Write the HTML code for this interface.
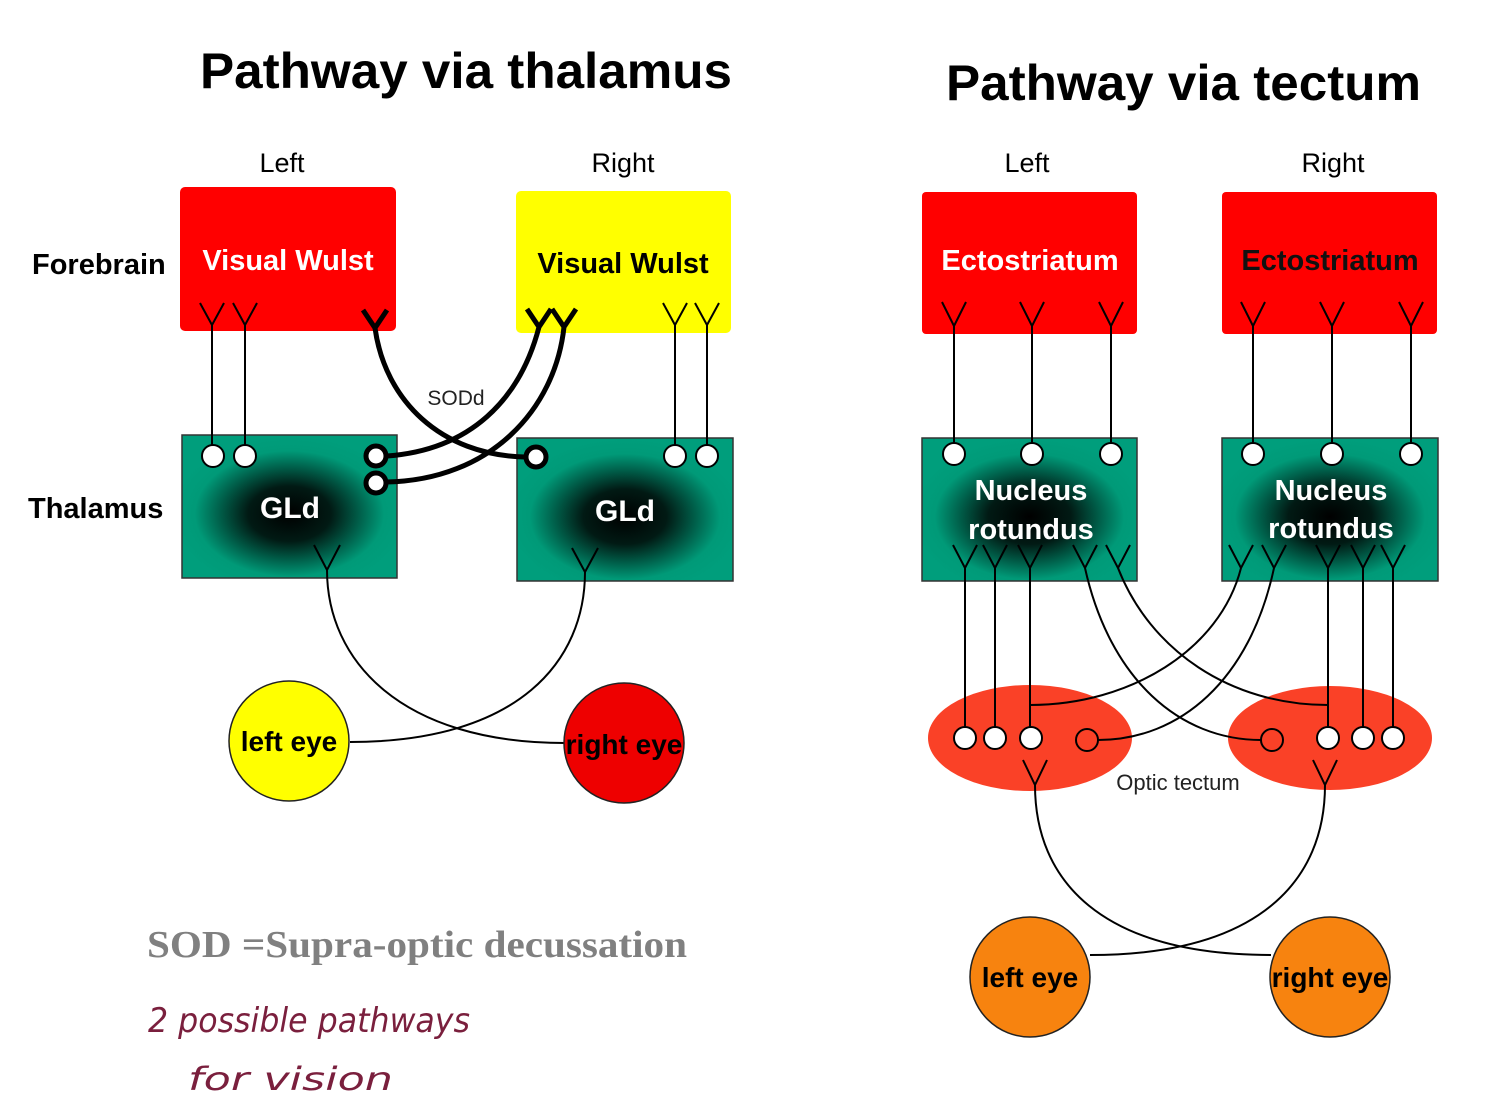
<!DOCTYPE html>
<html><head><meta charset="utf-8"><style>
html,body{margin:0;padding:0;background:#fff;}
svg{display:block;}
text{font-family:"Liberation Sans",Arial,sans-serif;}
</style></head><body>
<svg width="1493" height="1108" viewBox="0 0 1493 1108" xmlns="http://www.w3.org/2000/svg">
<defs>
<radialGradient id="g" cx="0.5" cy="0.55" r="0.55">
<stop offset="0" stop-color="#000"/>
<stop offset="0.35" stop-color="#011a14"/>
<stop offset="0.8" stop-color="#009a78"/>
<stop offset="1" stop-color="#009e7c"/>
</radialGradient>
</defs>

<!-- Titles -->
<text x="200" y="88" font-size="50" font-weight="bold" textLength="532" lengthAdjust="spacingAndGlyphs">Pathway via thalamus</text>
<text x="946" y="100" font-size="50" font-weight="bold" textLength="475" lengthAdjust="spacingAndGlyphs">Pathway via tectum</text>

<!-- LEFT DIAGRAM -->
<text x="282" y="172" font-size="27" text-anchor="middle">Left</text>
<text x="623" y="172" font-size="27" text-anchor="middle">Right</text>
<text x="32" y="274" font-size="29" font-weight="bold">Forebrain</text>
<text x="28" y="518" font-size="29" font-weight="bold">Thalamus</text>

<rect x="180" y="187" width="216" height="144" rx="5" fill="#ff0000"/>
<rect x="516" y="191" width="215" height="142" rx="5" fill="#ffff00"/>
<text x="288" y="270" font-size="29" font-weight="bold" fill="#fff" text-anchor="middle">Visual Wulst</text>
<text x="623" y="273" font-size="29" font-weight="bold" fill="#000" text-anchor="middle">Visual Wulst</text>

<rect x="182" y="435" width="215" height="143" fill="url(#g)" stroke="#333" stroke-width="1.5"/>
<rect x="517" y="438" width="216" height="143" fill="url(#g)" stroke="#333" stroke-width="1.5"/>
<text x="290" y="518" font-size="30" font-weight="bold" fill="#fff" text-anchor="middle">GLd</text>
<text x="625" y="521" font-size="30" font-weight="bold" fill="#fff" text-anchor="middle">GLd</text>

<g fill="none" stroke="#000" stroke-width="2">
<!-- thin forks and lines -->
<path d="M200 303 L212 325 L224 303 M212 325 L212 445"/>
<path d="M233 303 L245 325 L257 303 M245 325 L245 445"/>
<path d="M663 303 L675 325 L687 303 M675 325 L675 445"/>
<path d="M695 303 L707 325 L719 303 M707 325 L707 445"/>
<!-- GLd forks -->
<path d="M314 545 L327 570 L340 545 M327 570 C327 660 400 743 565 743"/>
<path d="M572 548 L585 572 L598 548 M585 572 C585 660 520 742 350 742"/>
</g>
<g fill="none" stroke="#000" stroke-width="5">
<path d="M363 310 L375 328 L387 310 M375 328 C385 400 440 455 525 457"/>
<path d="M527 309 L539 327 L551 309 M539 327 C520 400 470 450 387 456"/>
<path d="M552 309 L564 327 L576 309 M564 327 C555 410 490 480 387 482"/>
</g>
<g fill="#fff" stroke="#000" stroke-width="2">
<circle cx="213" cy="456" r="11"/>
<circle cx="245" cy="456" r="11"/>
<circle cx="675" cy="456" r="11"/>
<circle cx="707" cy="456" r="11"/>
</g>
<g fill="#fff" stroke="#000" stroke-width="5">
<circle cx="376" cy="456" r="10"/>
<circle cx="376" cy="483" r="10"/>
<circle cx="536" cy="457" r="10"/>
</g>
<text x="456" y="405" font-size="21" fill="#222" text-anchor="middle">SODd</text>

<circle cx="289" cy="741" r="60" fill="#ffff00" stroke="#222" stroke-width="1.5"/>
<circle cx="624" cy="743" r="60" fill="#ee0000" stroke="#222" stroke-width="1.5"/>
<text x="289" y="751" font-size="28" font-weight="bold" text-anchor="middle">left eye</text>
<text x="624" y="754" font-size="28" font-weight="bold" text-anchor="middle">right eye</text>

<!-- RIGHT DIAGRAM -->
<text x="1027" y="172" font-size="27" text-anchor="middle">Left</text>
<text x="1333" y="172" font-size="27" text-anchor="middle">Right</text>
<rect x="922" y="192" width="215" height="142" rx="4" fill="#ff0000"/>
<rect x="1222" y="192" width="215" height="142" rx="4" fill="#ff0000"/>
<text x="1030" y="270" font-size="29" font-weight="bold" fill="#fff" text-anchor="middle">Ectostriatum</text>
<text x="1330" y="270" font-size="29" font-weight="bold" fill="#111" text-anchor="middle">Ectostriatum</text>

<rect x="922" y="438" width="215" height="143" fill="url(#g)" stroke="#333" stroke-width="1.5"/>
<rect x="1222" y="438" width="216" height="143" fill="url(#g)" stroke="#333" stroke-width="1.5"/>
<text x="1031" y="500" font-size="29" font-weight="bold" fill="#fff" text-anchor="middle">Nucleus</text>
<text x="1031" y="539" font-size="29" font-weight="bold" fill="#fff" text-anchor="middle">rotundus</text>
<text x="1331" y="500" font-size="29" font-weight="bold" fill="#fff" text-anchor="middle">Nucleus</text>
<text x="1331" y="538" font-size="29" font-weight="bold" fill="#fff" text-anchor="middle">rotundus</text>

<ellipse cx="1030" cy="738" rx="102" ry="53" fill="#fa4127"/>
<ellipse cx="1330" cy="738" rx="102" ry="52" fill="#fa4127"/>
<text x="1178" y="790" font-size="22" fill="#222" text-anchor="middle">Optic tectum</text>

<g fill="none" stroke="#000" stroke-width="2">
<path d="M942 302 L954 326 L966 302 M954 326 L954 443"/>
<path d="M1020 302 L1032 326 L1044 302 M1032 326 L1032 443"/>
<path d="M1099 302 L1111 326 L1123 302 M1111 326 L1111 443"/>
<path d="M1241 302 L1253 326 L1265 302 M1253 326 L1253 443"/>
<path d="M1320 302 L1332 326 L1344 302 M1332 326 L1332 443"/>
<path d="M1399 302 L1411 326 L1423 302 M1411 326 L1411 443"/>
<!-- NR forks left -->
<path d="M953 545 L965 568 L977 545 M965 568 L965 727"/>
<path d="M983 545 L995 568 L1007 545 M995 568 L995 727"/>
<path d="M1018 545 L1030 568 L1042 545 M1030 568 L1030 727"/>
<path d="M1073 545 L1085 568 L1097 545 M1085 568 C1110 680 1180 740 1261 740"/>
<path d="M1106 545 L1118 568 L1130 545 M1118 568 C1150 650 1230 705 1328 705"/>
<!-- NR forks right -->
<path d="M1229 545 L1241 568 L1253 545 M1241 568 C1220 650 1130 705 1030 705"/>
<path d="M1262 545 L1274 568 L1286 545 M1274 568 C1250 680 1180 740 1098 740"/>
<path d="M1316 545 L1328 568 L1340 545 M1328 568 L1328 727"/>
<path d="M1351 545 L1363 568 L1375 545 M1363 568 L1363 727"/>
<path d="M1381 545 L1393 568 L1405 545 M1393 568 L1393 727"/>
<!-- tectum forks -->
<path d="M1023 760 L1035 785 L1047 760 M1035 785 C1035 880 1100 955 1271 955"/>
<path d="M1313 760 L1325 785 L1337 760 M1325 785 C1325 880 1260 955 1090 955"/>
</g>
<g fill="#fff" stroke="#000" stroke-width="2">
<circle cx="954" cy="454" r="11"/>
<circle cx="1032" cy="454" r="11"/>
<circle cx="1111" cy="454" r="11"/>
<circle cx="1253" cy="454" r="11"/>
<circle cx="1332" cy="454" r="11"/>
<circle cx="1411" cy="454" r="11"/>
<circle cx="965" cy="738" r="11"/>
<circle cx="995" cy="738" r="11"/>
<circle cx="1031" cy="738" r="11"/>
<circle cx="1328" cy="738" r="11"/>
<circle cx="1363" cy="738" r="11"/>
<circle cx="1393" cy="738" r="11"/>
</g>
<g fill="none" stroke="#000" stroke-width="2">
<circle cx="1087" cy="740" r="11"/>
<circle cx="1272" cy="740" r="11"/>
</g>

<circle cx="1030" cy="977" r="60" fill="#f7830f" stroke="#222" stroke-width="1.5"/>
<circle cx="1330" cy="977" r="60" fill="#f7830f" stroke="#222" stroke-width="1.5"/>
<text x="1030" y="987" font-size="28" font-weight="bold" text-anchor="middle">left eye</text>
<text x="1330" y="987" font-size="28" font-weight="bold" text-anchor="middle">right eye</text>

<!-- Bottom notes -->
<text x="147" y="957" font-family="Liberation Serif, serif" font-size="38" font-weight="bold" fill="#808080" textLength="540" lengthAdjust="spacingAndGlyphs" style="font-family:'Liberation Serif',serif">SOD =Supra-optic decussation</text>
<text x="148" y="1032" font-size="34" font-style="italic" fill="#7a1f3d" textLength="322" lengthAdjust="spacingAndGlyphs" style="font-family:'DejaVu Sans',sans-serif">2 possible pathways</text>
<text x="188" y="1090" font-size="32" font-style="italic" fill="#7a1f3d" textLength="205" lengthAdjust="spacingAndGlyphs" style="font-family:'DejaVu Sans',sans-serif">for  vision</text>
</svg>
</body></html>
